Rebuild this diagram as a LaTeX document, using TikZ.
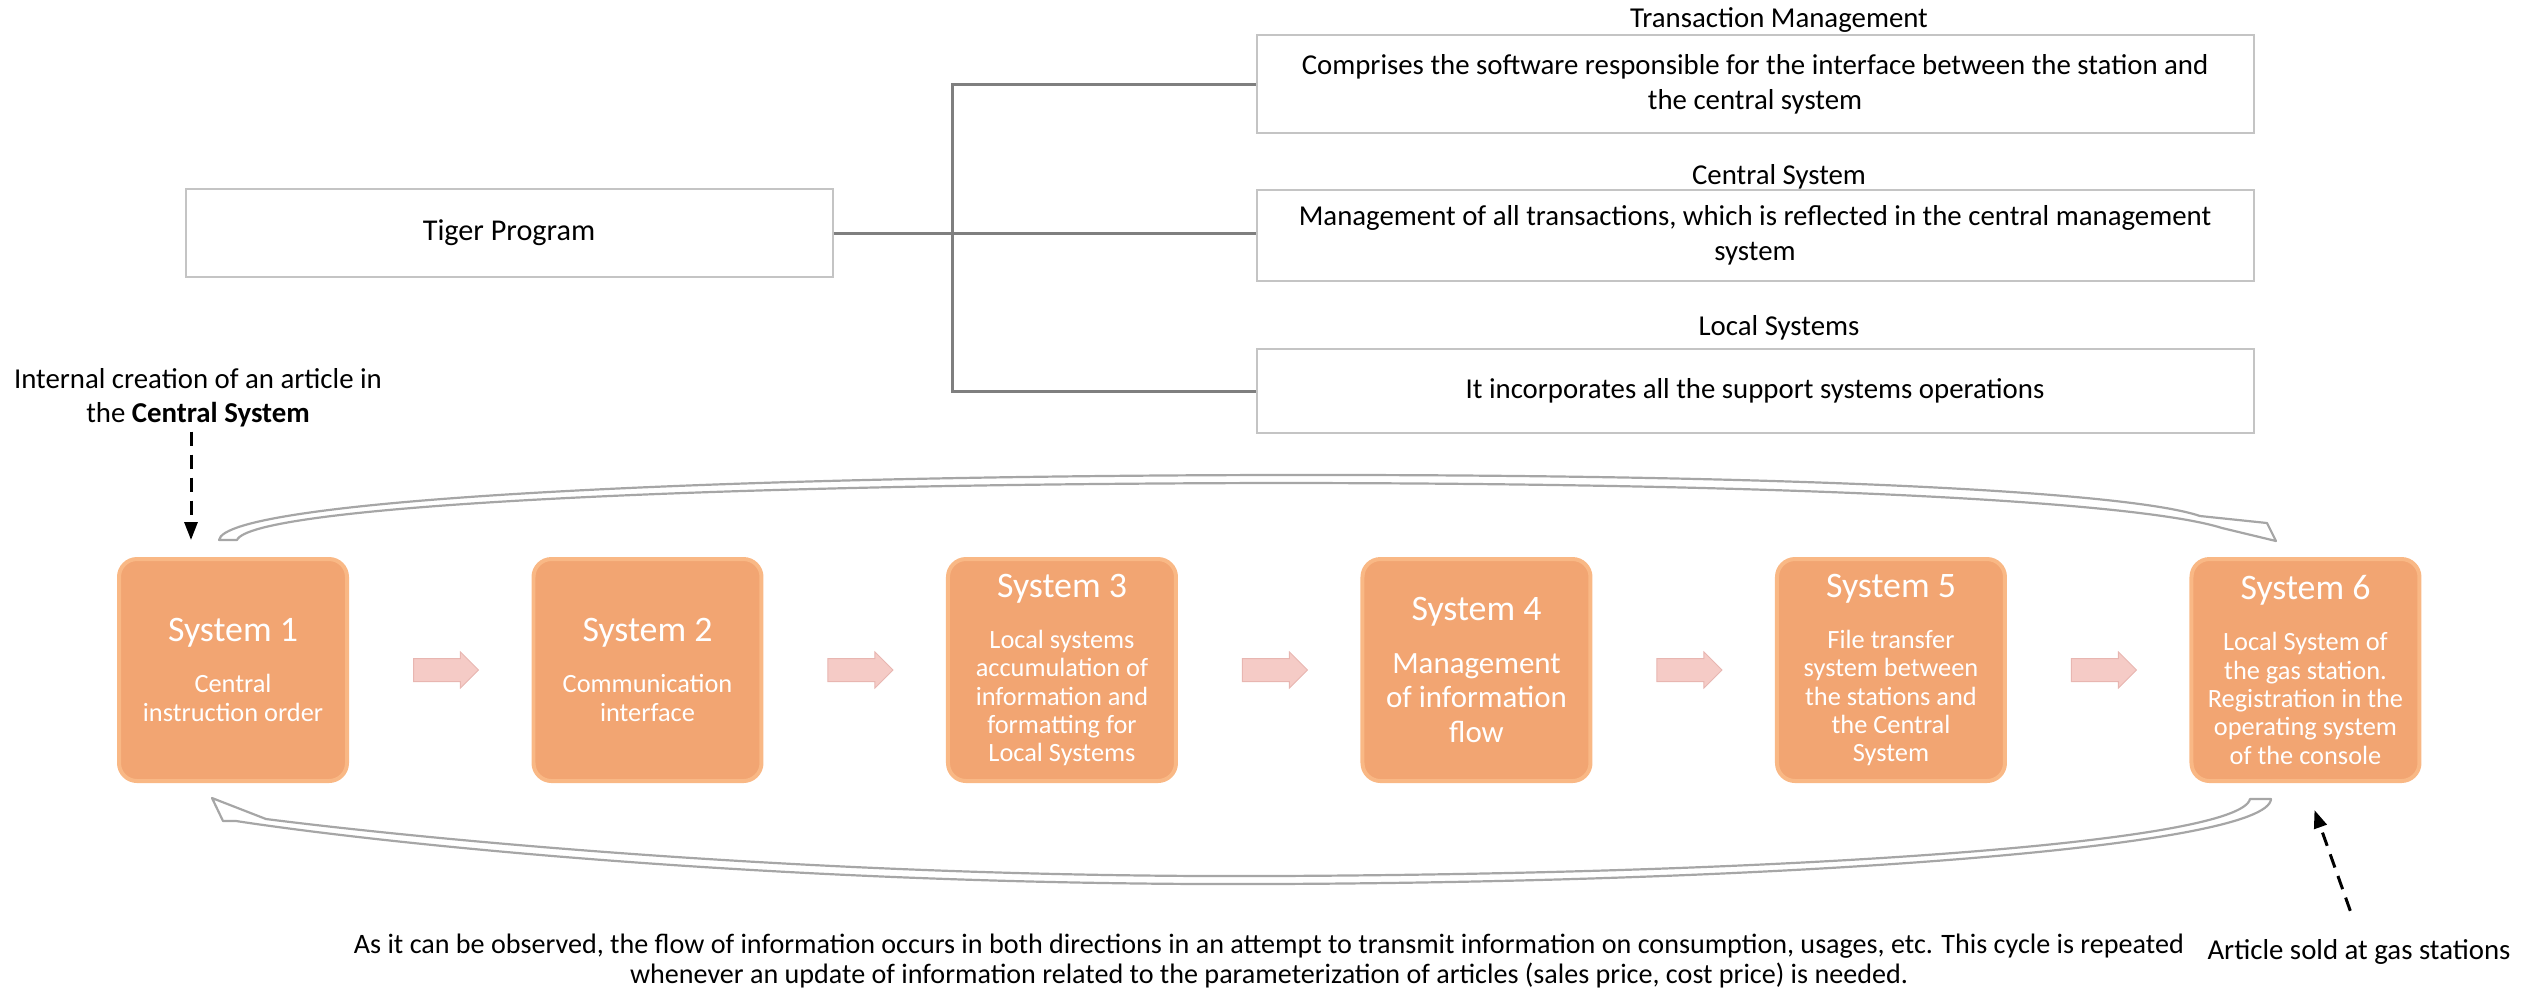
\documentclass[tikz,border=0pt]{standalone}
\usepackage{fontspec}
\setmainfont{Carlito}
\usetikzlibrary{arrows.meta,calc,positioning,shapes.arrows}

\definecolor{sysorange}{RGB}{242,165,114}
\definecolor{sysedge}{RGB}{249,184,133}
\definecolor{flowpink}{RGB}{245,203,198}
\definecolor{flowedge}{RGB}{232,182,177}
\definecolor{framegray}{RGB}{196,196,196}
\definecolor{branchgray}{RGB}{127,127,127}
\definecolor{loopgray}{RGB}{166,166,166}

\newcommand{\sysname}[1]{{\fontsize{10.2}{12}\selectfont #1}}

\begin{document}
\begin{tikzpicture}[x=.1mm, y=-.1mm,
  infobox/.style={draw=framegray, line width=.2mm, minimum width=99.7mm,
    align=center, inner sep=0, font=\fontsize{8.2}{9.9}\selectfont},
  infotitle/.style={inner sep=0, font=\fontsize{8.2}{9.9}\selectfont},
  plaintext/.style={inner sep=1pt, align=center, font=\fontsize{8.2}{9.7}\selectfont},
  branch/.style={draw=branchgray, line width=.3mm},
  sysbox/.style={draw=sysedge, fill=sysorange, line width=.4mm,
    rounded corners=1.8mm, minimum width=22.8mm, minimum height=22.2mm,
    align=center, text=white, inner sep=0, font=\fontsize{7.5}{8.1}\selectfont},
  flowarrow/.style={single arrow, draw=flowedge, fill=flowpink, line width=.1mm,
    minimum height=6.5mm, text height=1.1mm, text depth=1.1mm, text width=0pt,
    single arrow head extend=.65mm, inner sep=0},
  dasharrow/.style={line width=.3mm, dash pattern=on 1.4mm off .9mm,
    -{Triangle[length=1.8mm, width=1.3mm]}},
  cyclearrow/.style={draw=loopgray, fill=white, line width=.22mm, line join=round}]

\useasboundingbox (0,0) rectangle (2522,991);

\node[infobox, minimum height=9.8mm] (tm) at (1755,84)
  {Comprises the software responsible for the interface between the station and\\the central system};
\node[infobox, minimum height=9.1mm] (cs) at (1755,235)
  {Management of all transactions, which is reflected in the central management\\system};
\node[infobox, minimum height=8.4mm] (ls) at (1755,391)
  {It incorporates all the support systems operations};

\node[infotitle] (tmtitle) at (1779,20) {Transaction Management};
\node[infotitle] (cstitle) at (1779,177) {Central System};
\node[infotitle] (lstitle) at (1779,328) {Local Systems};

\node[infobox, minimum width=64.7mm, minimum height=8.8mm,
  font=\fontsize{8.6}{10}\selectfont] (tiger) at (509,233) {Tiger Program};

\draw[branch]
  (tiger.east) -- (tiger.east -| cs.west);
\draw[branch]
  (tm.west) -- ++(-303,0) |- (ls.west);


\node[sysbox] (s1) at (233,670)
  {\sysname{System 1}\\[6.4pt]Central\\instruction order};
\node[sysbox, right=18.25mm of s1] (s2)
  {\sysname{System 2}\\[6.4pt]Communication\\interface};
\node[sysbox, right=18.25mm of s2] (s3)
  {\sysname{System 3}\\[6.4pt]Local systems\\accumulation of\\information and\\formatting for\\Local Systems};
\node[sysbox, right=18.25mm of s3, font=\fontsize{8.8}{9.9}\selectfont] (s4)
  {\sysname{System 4}\\[5.1pt]Management\\of information\\flow};
\node[sysbox, right=18.25mm of s4] (s5)
  {\sysname{System 5}\\[6.4pt]File transfer\\system between\\the stations and\\the Central\\System};
\node[sysbox, right=18.25mm of s5] (s6)
  {\sysname{System 6}\\[6.4pt]Local System of\\the gas station.\\Registration in the\\operating system\\of the console};

\node[flowarrow] (f1) at ($(s1.east)!.5!(s2.west)$) {};
\node[flowarrow] (f2) at ($(s2.east)!.5!(s3.west)$) {};
\node[flowarrow] (f3) at ($(s3.east)!.5!(s4.west)$) {};
\node[flowarrow] (f4) at ($(s4.east)!.5!(s5.west)$) {};
\node[flowarrow] (f5) at ($(s5.east)!.5!(s6.west)$) {};


\draw[cyclearrow]
  (219,540)
  .. controls (225,500) and (700,476) ..
  (1273,475)
  .. controls (1800,474) and (2130,492) ..
  (2200,516) -- (2267,523) -- (2276,541) -- (2222,528)
  .. controls (2140,502) and (1800,483) ..
  (1273,483)
  .. controls (700,484) and (252,506) ..
  (237,540) -- cycle;

\draw[cyclearrow]
  (2250,799)
  .. controls (2240,842) and (1800,874) ..
  (1270,876)
  .. controls (800,878) and (400,836) ..
  (266,819) -- (212,798) -- (223,821) -- (236,821)
  .. controls (400,846) and (800,886) ..
  (1270,884)
  .. controls (1800,882) and (2268,846) ..
  (2271,799) -- cycle;


\node[plaintext] (intro) at (198,398)
  {Internal creation of an article in\\the \textbf{Central System}};
\coordinate (introtip) at ($(s1.north)+(-42,-17)$);
\draw[dasharrow]
  (intro.south -| introtip) -- (introtip);

\node[plaintext] (sold) at (2359,952) {Article sold at gas stations};
\coordinate (soldtip) at ($(s6.south)+(9,27)$);
\draw[dasharrow, shorten <=2.6mm]
  (sold.north) -- (soldtip);

\node[plaintext, font=\fontsize{8}{8.5}\selectfont] (note) at (1269,961)
  {As it can be observed, the flow of information occurs in both directions in an attempt to transmit information on consumption, usages, etc. This cycle is repeated\\whenever an update of information related to the parameterization of articles (sales price, cost price) is needed.};

\end{tikzpicture}
\end{document}
